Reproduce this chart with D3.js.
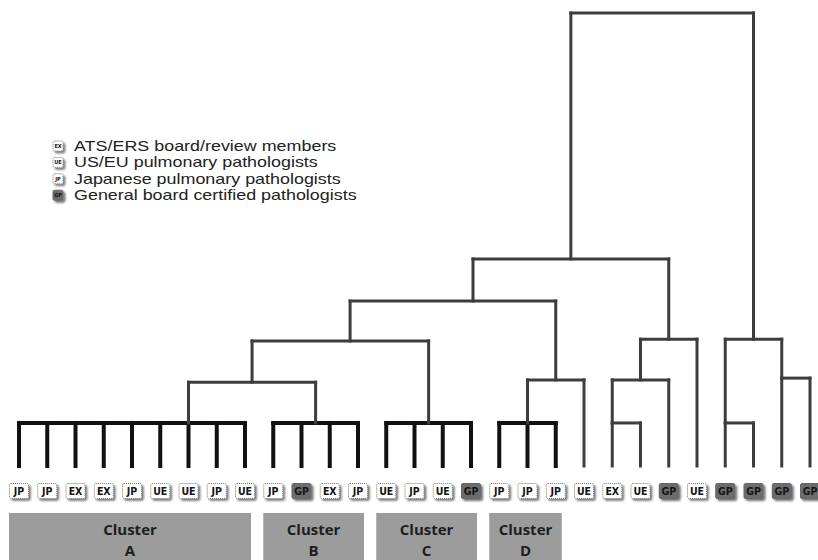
<!DOCTYPE html>
<html>
<head>
<meta charset="utf-8">
<script src="https://cdn.jsdelivr.net/npm/d3@7"></script>
<style>
  html, body { margin: 0; padding: 0; background: #fff; }
  svg { display: block; }
</style>
</head>
<body>
<svg id="chart" width="818" height="560"></svg>
<script>
// Rater groups, one per leaf, in dendrogram order
const leafLabels = ["JP","JP","EX","EX","JP","UE","UE","JP","UE",
                    "JP","GP","EX","JP",
                    "UE","JP","UE","GP",
                    "JP","JP","JP","UE",
                    "EX","UE","GP","UE",
                    "GP","GP","GP","GP"];

// Named clusters: first and last leaf index of each
const clusterNames = ["A","B","C","D"];
const clusterSpans = [[0,8],[9,12],[13,16],[17,19]];

// Merge nodes: children ("L#" = leaf, "N#" = earlier node), linkage height,
// and, where the joining stem is not centred, its position in leaf units
const mergeKids = [
  ["L0","L1","L2","L3","L4","L5","L6","L7","L8"],   // N0  cluster A
  ["L9","L10","L11","L12"],                         // N1  cluster B
  ["L13","L14","L15","L16"],                        // N2  cluster C
  ["L17","L18","L19"],                              // N3  cluster D
  ["L21","L22"],                                    // N4
  ["L25","L26"],                                    // N5
  ["L27","L28"],                                    // N6
  ["N0","N1"],                                      // N7
  ["N7","N2"],                                      // N8
  ["N3","L20"],                                     // N9
  ["N8","N9"],                                      // N10
  ["N4","L23"],                                     // N11
  ["N11","L24"],                                    // N12
  ["N5","N6"],                                      // N13
  ["N10","N12"],                                    // N14
  ["N14","N13"]                                     // N15 root
];
const mergeHeights = [0.95, 0.95, 0.95, 0.95, 0.95, 0.95, 1.94,
                      1.85, 2.76, 1.90, 3.64, 1.90, 2.80, 2.80, 4.57, 10.0];
const mergeStems = [6, null, null, null, 21, 25, 27,
                    null, 11.72, null, 16.07, null, null, null, null, null];

// Legend entries
const legendCodes = ["EX","UE","JP","GP"];
const legendTexts = ["ATS/ERS board/review members",
                     "US/EU pulmonary pathologists",
                     "Japanese pulmonary pathologists",
                     "General board certified pathologists"];

const svg = d3.select("#chart");

const x = d3.scaleLinear().domain([0, leafLabels.length - 1]).range([19, 810]);
const y = d3.scaleLinear().domain([0, 10]).range([466, 13]);

// soft drop shadow used by the label chips
const defs = svg.append("defs");
const sh = defs.append("filter").attr("id", "chipShadow")
  .attr("x", "-40%").attr("y", "-40%").attr("width", "180%").attr("height", "180%");
sh.append("feGaussianBlur").attr("in", "SourceAlpha").attr("stdDeviation", 1.3).attr("result", "b");
sh.append("feOffset").attr("in", "b").attr("dx", 1.5).attr("dy", 1.5).attr("result", "o");
sh.append("feComponentTransfer").attr("in", "o").attr("result", "s")
  .append("feFuncA").attr("type", "linear").attr("slope", 0.55);
const m = sh.append("feMerge");
m.append("feMergeNode").attr("in", "s");
m.append("feMergeNode").attr("in", "SourceGraphic");

// resolve node positions
const nodes = mergeKids.map((kids, i) => ({ kids, h: mergeHeights[i] }));
function ref(id) {
  const k = +id.slice(1);
  if (id[0] === "L") return { pos: k, h: 0, leaf: true };
  return nodes[k];
}
nodes.forEach((n, i) => {
  const kp = n.kids.map(id => ref(id).pos);
  n.min = d3.min(kp);
  n.max = d3.max(kp);
  n.pos = mergeStems[i] != null ? mergeStems[i] : (n.min + n.max) / 2;
});
const clusterNode = new Set([0, 1, 2, 3]);

const gTree = svg.append("g").attr("fill", "none")
  .attr("stroke-linecap", "square").attr("stroke-linejoin", "miter");

nodes.forEach((n, i) => {
  const isCl = clusterNode.has(i);
  const col = isCl ? "#111" : "#3d3d3d";
  const w = isCl ? 4 : 3;
  // crossbar
  gTree.append("line")
    .attr("x1", x(n.min)).attr("x2", x(n.max))
    .attr("y1", y(n.h)).attr("y2", y(n.h))
    .attr("stroke", col).attr("stroke-width", w);
  // drops to each child
  n.kids.forEach(id => {
    const c = ref(id);
    gTree.append("line")
      .attr("x1", x(c.pos)).attr("x2", x(c.pos))
      .attr("y1", y(n.h)).attr("y2", y(c.h))
      .attr("stroke", col).attr("stroke-width", w);
  });
});

// leaf chips
function chip(g, code, cx, cy, w, h, fs) {
  const gp = code === "GP";
  g.append("rect")
    .attr("x", cx - w / 2).attr("y", cy - h / 2)
    .attr("width", w).attr("height", h).attr("rx", 1.5)
    .attr("fill", gp ? "#6c6c6c" : "#fff")
    .attr("stroke", gp ? "#666" : "#777")
    .attr("stroke-width", 1)
    .attr("stroke-dasharray", gp ? null : "1,1")
    .attr("filter", "url(#chipShadow)");
  g.append("text")
    .attr("x", cx).attr("y", cy + fs * 0.37)
    .attr("text-anchor", "middle")
    .attr("font-family", "'DejaVu Sans Condensed', 'DejaVu Sans', sans-serif")
    .attr("font-weight", "bold")
    .attr("font-size", fs)
    .attr("fill", "#151515")
    .text(code);
}

const gLeaves = svg.append("g");
leafLabels.forEach((lab, i) => chip(gLeaves, lab, x(i), 491, 19, 15, 10.5));

// cluster banners
const gCl = svg.append("g");
clusterSpans.forEach((s, i) => {
  const x0 = x(s[0]) - 10, x1 = x(s[1]) + 6;
  gCl.append("rect")
    .attr("x", x0).attr("y", 513).attr("width", x1 - x0).attr("height", 50)
    .attr("fill", "#9c9c9c");
  const t = gCl.append("text")
    .attr("text-anchor", "middle")
    .attr("font-family", "'Open Sans', 'Noto Sans', sans-serif")
    .attr("font-weight", "bold")
    .attr("font-size", 15)
    .attr("fill", "#1e1e1e");
  t.append("tspan").attr("x", (x0 + x1) / 2).attr("y", 535).text("Cluster");
  t.append("tspan").attr("x", (x0 + x1) / 2).attr("y", 556).text(clusterNames[i]);
});

// legend
const gLeg = svg.append("g");
legendCodes.forEach((c, i) => {
  const cy = 146 + i * 16.4;
  chip(gLeg, c, 58, cy, 10, 10, 5.5);
  gLeg.append("text")
    .attr("transform", `translate(74,${cy + 5}) scale(1.28,1)`)
    .attr("font-family", "'Liberation Sans', Arial, sans-serif")
    .attr("font-size", 14)
    .attr("fill", "#222")
    .text(legendTexts[i]);
});
</script>
</body>
</html>
